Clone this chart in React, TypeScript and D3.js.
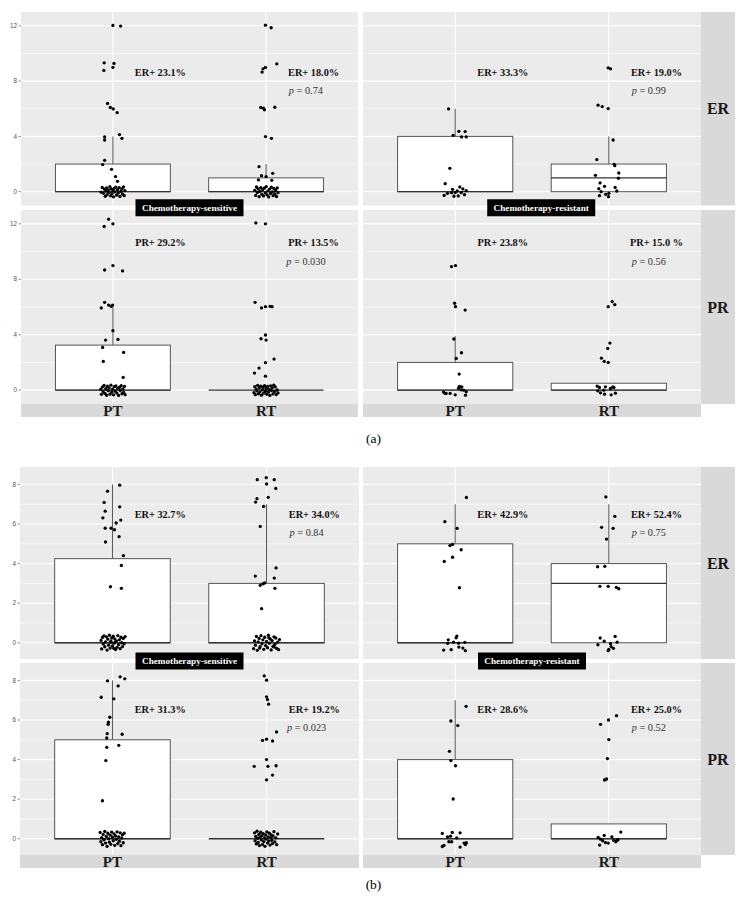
import React from 'react';
import * as d3 from 'd3';

const categories = ['PT', 'RT'];
const rowLabels = ['ER', 'PR'];
const groupLabels = ['Chemotherapy-sensitive', 'Chemotherapy-resistant'];

// box stats per category: [q1, median, q3, upper whisker]
const boxA_ER_S = [[0, 0, 2, 4], [0, 0, 1, 2]];
const boxA_ER_R = [[0, 0, 4, 6], [0, 1, 2, 4]];
const boxA_PR_S = [[0, 0, 3.25, 6], [0, 0, 0, 0]];
const boxA_PR_R = [[0, 0, 2, 3.9], [0, 0, 0.5, 0.5]];
const boxB_ER_S = [[0, 0, 4.25, 8], [0, 0, 3, 7]];
const boxB_ER_R = [[0, 0, 5, 7], [0, 3, 4, 7]];
const boxB_PR_S = [[0, 0, 5, 8], [0, 0, 0, 0]];
const boxB_PR_R = [[0, 0, 4, 7], [0, 0, 0.75, 0.75]];

// positive rates and p values
const pctA_ER_S = ['ER+ 23.1%', 'ER+ 18.0%'];
const pctA_ER_R = ['ER+ 33.3%', 'ER+ 19.0%'];
const pctA_PR_S = ['PR+ 29.2%', 'PR+ 13.5%'];
const pctA_PR_R = ['PR+ 23.8%', 'PR+ 15.0 %'];
const pctB_ER_S = ['ER+ 32.7%', 'ER+ 34.0%'];
const pctB_ER_R = ['ER+ 42.9%', 'ER+ 52.4%'];
const pctB_PR_S = ['ER+ 31.3%', 'ER+ 19.2%'];
const pctB_PR_R = ['ER+ 28.6%', 'ER+ 25.0%'];
const pValsA = ['0.74', '0.99', '0.030', '0.56'];
const pValsB = ['0.84', '0.75', '0.023', '0.52'];

// jittered points: [category index, jitter offset, value]
const ptsA_ER_S = [
  [0, 0, 12.03], [0, 0.05, 11.98], [0, -0.057, 9.32], [0, 0.007, 9.28], [0, -0.059, 8.77], [0, 0, 9.0],
  [0, -0.035, 6.38], [0, -0.017, 6.09], [0, 0.002, 5.99], [0, 0.028, 5.72], [0, -0.054, 3.96], [0, -0.054, 3.74],
  [0, 0.043, 4.13], [0, 0.059, 3.86], [0, -0.054, 2.27], [0, -0.067, 1.96], [0, -0.009, 1.62], [0, 0.017, 1.09],
  [0, 0.03, 0.75],
  [0, -0.07, 0.31], [0, -0.062, -0.12], [0, -0.055, 0.18], [0, -0.05, -0.33], [0, -0.046, 0.05], [0, -0.041, 0.27],
  [0, -0.037, -0.22], [0, -0.03, 0.12], [0, -0.026, -0.05], [0, -0.02, 0.36], [0, -0.015, -0.3], [0, -0.011, 0.2],
  [0, -0.006, -0.14], [0, 0.0, 0.09], [0, 0.004, -0.37], [0, 0.009, 0.24], [0, 0.013, -0.02], [0, 0.019, 0.33],
  [0, 0.024, -0.25], [0, 0.03, 0.14], [0, 0.035, -0.1], [0, 0.041, 0.29], [0, 0.046, -0.34], [0, 0.052, 0.02],
  [0, 0.058, 0.2], [0, 0.063, -0.18], [0, 0.069, 0.34], [0, 0.074, -0.28], [0, -0.078, -0.03], [0, 0.078, 0.08],
  [1, -0.004, 12.05], [1, 0.033, 11.86], [1, 0.07, 9.25], [1, -0.004, 8.99], [1, -0.02, 8.89], [1, -0.026, 8.65],
  [1, -0.035, 6.09], [1, -0.017, 6.04], [1, -0.011, 5.92], [1, 0.057, 6.11], [1, -0.004, 3.99], [1, 0.035, 3.86],
  [1, -0.046, 1.81], [1, -0.05, 0.85], [1, -0.03, 1.16], [1, 0, 1.09], [1, 0.043, 1.33], [1, 0.037, 0.82],
  [1, -0.074, 0.1], [1, -0.068, -0.27], [1, -0.063, 0.34], [1, -0.057, -0.06], [1, -0.052, 0.21], [1, -0.045, -0.36],
  [1, -0.04, 0.03], [1, -0.034, 0.3], [1, -0.028, -0.19], [1, -0.022, 0.15], [1, -0.017, -0.31], [1, -0.011, 0.26],
  [1, -0.005, -0.09], [1, 0.001, 0.37], [1, 0.006, -0.23], [1, 0.012, 0.06], [1, 0.017, -0.38], [1, 0.023, 0.19],
  [1, 0.029, -0.13], [1, 0.034, 0.32], [1, 0.04, -0.02], [1, 0.046, -0.29], [1, 0.051, 0.23], [1, 0.057, -0.16],
  [1, 0.062, 0.11], [1, 0.068, -0.35], [1, 0.073, 0.27], [1, 0.078, -0.07],
];
const ptsA_ER_R = [
  [0, -0.043, 5.99], [0, -0.013, 4.08], [0, 0.024, 4.37], [0, 0.065, 4.35], [0, 0.041, 3.96], [0, 0.072, 3.96],
  [0, -0.035, 1.69], [0, -0.065, 0.58], [0, -0.017, 0.17], [0, 0.03, 0.34], [0, -0.072, -0.27], [0, -0.024, -0.07],
  [0, 0, -0.07], [0, 0.02, -0.31], [0, 0.039, -0.07], [0, 0.061, -0.22], [0, 0.072, 0.07], [0, 0.013, 0.05],
  [0, -0.05, -0.12], [0, 0.05, 0.2], [0, -0.008, -0.33],
  [1, -0.004, 8.96], [1, 0.011, 8.89], [1, -0.07, 6.26], [1, -0.043, 6.16], [1, -0.004, 6.01], [1, 0.028, 3.74],
  [1, -0.078, 2.32], [1, 0.035, 1.98], [1, 0.039, 1.88], [1, -0.087, 1.18], [1, 0.065, 1.35], [1, 0.063, 0.97],
  [1, -0.057, 0.63], [1, -0.028, 0.39], [1, -0.065, 0.22], [1, 0.041, 0.31], [1, -0.05, 0.0], [1, 0, -0.12],
  [1, 0.052, 0.05], [1, -0.02, -0.19], [1, -0.061, -0.29], [1, -0.002, -0.36],
];
const ptsA_PR_S = [
  [0, -0.028, 12.34], [0, -0.057, 11.81], [0, 0, 12.0], [0, -0.054, 8.67], [0, 0, 8.99], [0, 0.063, 8.6],
  [0, -0.054, 6.34], [0, -0.076, 5.93], [0, -0.028, 6.14], [0, -0.011, 6.05], [0, -0.002, 6.14], [0, 0, 4.29],
  [0, -0.048, 3.61], [0, 0.033, 3.66], [0, -0.067, 3.08], [0, 0.07, 2.72], [0, -0.063, 2.07], [0, 0.067, 0.92],
  [0, -0.08, 0.05], [0, -0.075, -0.3], [0, -0.069, 0.22], [0, -0.064, -0.11], [0, -0.058, 0.34], [0, -0.052, -0.24],
  [0, -0.047, 0.1], [0, -0.041, -0.37], [0, -0.036, 0.28], [0, -0.03, -0.04], [0, -0.025, 0.17], [0, -0.019, -0.29],
  [0, -0.013, 0.36], [0, -0.008, -0.15], [0, -0.002, 0.07], [0, 0.004, -0.34], [0, 0.009, 0.25], [0, 0.015, -0.08],
  [0, 0.02, 0.31], [0, 0.026, -0.21], [0, 0.031, 0.13], [0, 0.037, -0.38], [0, 0.043, 0.2], [0, 0.048, -0.02],
  [0, 0.054, 0.33], [0, 0.059, -0.26], [0, 0.065, 0.09], [0, 0.07, -0.17], [0, 0.076, 0.27], [0, 0.08, -0.33],
  [1, -0.067, 12.07], [1, -0.004, 12.0], [1, -0.072, 6.34], [1, -0.03, 5.93], [1, -0.004, 6.02], [1, 0.026, 6.05],
  [1, 0.039, 6.02], [1, -0.004, 3.98], [1, -0.033, 3.71], [1, 0, 3.61], [1, 0.052, 2.24], [1, -0.004, 1.98],
  [1, -0.046, 1.59], [1, -0.076, 1.23], [1, -0.004, 1.01],
  [1, -0.079, -0.18], [1, -0.074, 0.25], [1, -0.07, -0.33], [1, -0.065, 0.08], [1, -0.06, -0.05], [1, -0.055, 0.35],
  [1, -0.05, -0.26], [1, -0.045, 0.16], [1, -0.04, -0.12], [1, -0.035, 0.29], [1, -0.03, -0.36], [1, -0.025, 0.02],
  [1, -0.02, 0.21], [1, -0.015, -0.22], [1, -0.01, 0.33], [1, -0.005, -0.08], [1, 0.0, 0.12], [1, 0.005, -0.3],
  [1, 0.01, 0.27], [1, 0.015, -0.15], [1, 0.02, 0.06], [1, 0.025, -0.38], [1, 0.03, 0.31], [1, 0.035, -0.03],
  [1, 0.04, 0.18], [1, 0.045, -0.27], [1, 0.05, 0.36], [1, 0.055, -0.1], [1, 0.06, 0.23], [1, 0.066, -0.32],
  [1, 0.072, 0.01], [1, 0.078, -0.2],
];
const ptsA_PR_R = [
  [0, -0.024, 8.92], [0, 0.002, 8.99], [0, -0.004, 6.27], [0, 0.002, 6.02], [0, 0.065, 5.78], [0, -0.009, 3.69],
  [0, 0.041, 2.7], [0, 0.007, 2.29], [0, 0.026, 1.16], [0, 0.028, 0.27], [0, 0.043, 0.24], [0, 0.055, 0.0],
  [0, -0.076, -0.14], [0, -0.059, -0.24], [0, -0.033, -0.24], [0, 0, -0.34], [0, 0.067, -0.36], [0, 0.072, -0.12],
  [0, 0.039, 0.02], [0, -0.065, -0.24], [0, 0.022, 0.14],
  [1, -0.004, 6.02], [1, 0.022, 6.39], [1, 0.039, 6.17], [1, 0.007, 3.4], [1, -0.007, 3.01], [1, -0.048, 2.31],
  [1, -0.03, 2.07], [1, -0.004, 2.0], [1, -0.076, 0.29], [1, -0.061, 0.19], [1, -0.022, 0.24], [1, 0.026, 0.24],
  [1, 0.011, 0.12], [1, 0.033, 0.19], [1, -0.072, -0.05], [1, -0.033, 0.0], [1, -0.054, -0.19], [1, -0.028, -0.29],
  [1, 0.015, -0.34], [1, 0.043, -0.22],
];
const ptsB_ER_S = [
  [0, 0.047, 7.96], [0, -0.032, 7.66], [0, -0.054, 7.09], [0, -0.047, 6.65], [0, 0.047, 6.87], [0, -0.062, 6.31],
  [0, 0.054, 6.2], [0, 0.024, 6.05], [0, -0.047, 5.79], [0, -0.009, 5.79], [0, 0.013, 5.71], [0, 0.043, 5.36],
  [0, -0.045, 5.09], [0, 0.071, 4.4], [0, 0.058, 3.91], [0, -0.013, 2.83], [0, 0.058, 2.75],
  [0, -0.074, 0.12], [0, -0.07, -0.31], [0, -0.065, 0.27], [0, -0.06, -0.06], [0, -0.055, 0.35], [0, -0.05, -0.2],
  [0, -0.045, 0.04], [0, -0.04, 0.3], [0, -0.035, -0.37], [0, -0.03, 0.18], [0, -0.025, -0.12], [0, -0.02, 0.38],
  [0, -0.015, -0.27], [0, -0.01, 0.08], [0, -0.005, 0.24], [0, 0.0, -0.16], [0, 0.005, 0.33], [0, 0.01, -0.02],
  [0, 0.015, 0.2], [0, 0.02, -0.34], [0, 0.025, 0.1], [0, 0.03, -0.23], [0, 0.035, 0.36], [0, 0.04, -0.09],
  [0, 0.045, 0.15], [0, 0.05, -0.3], [0, 0.055, 0.28], [0, 0.06, 0.0], [0, 0.065, -0.19], [0, 0.07, 0.22],
  [0, 0.076, -0.05], [0, 0.082, 0.31], [0, -0.012, 0.02], [0, 0.022, 0.06], [0, 0.008, -0.28],
  [1, -0.06, 8.24], [1, -0.002, 8.34], [1, 0.05, 8.24], [1, 0, 8.02], [1, 0.06, 7.8], [1, -0.062, 7.28],
  [1, 0.011, 7.35], [1, -0.071, 7.11], [1, -0.019, 6.89], [1, -0.041, 5.88], [1, 0.062, 3.78], [1, -0.073, 3.37],
  [1, 0.05, 3.27], [1, -0.041, 2.9], [1, -0.024, 2.98], [1, -0.013, 3.02], [1, 0.054, 2.75], [1, -0.032, 1.72],
  [1, -0.084, -0.3], [1, -0.078, 0.1], [1, -0.072, -0.12], [1, -0.066, 0.32], [1, -0.06, -0.38], [1, -0.054, 0.05],
  [1, -0.048, 0.22], [1, -0.042, -0.2], [1, -0.036, 0.36], [1, -0.03, -0.05], [1, -0.024, 0.15], [1, -0.018, -0.33],
  [1, -0.012, 0.28], [1, -0.006, -0.14], [1, 0.0, 0.07], [1, 0.006, -0.25], [1, 0.012, 0.38], [1, 0.018, -0.02],
  [1, 0.024, 0.19], [1, 0.03, -0.36], [1, 0.036, 0.11], [1, 0.042, -0.18], [1, 0.048, 0.3], [1, 0.054, -0.08],
  [1, 0.06, 0.24], [1, 0.066, -0.28], [1, 0.072, 0.03], [1, 0.078, -0.35], [1, 0.084, 0.16], [1, -0.045, -0.27],
  [1, 0.015, 0.25], [1, 0.05, -0.22],
];
const ptsB_ER_R = [
  [0, 0.073, 7.34], [0, -0.067, 6.12], [0, 0.013, 5.78], [0, -0.034, 4.91], [0, -0.017, 4.97], [0, 0.039, 4.7],
  [0, -0.017, 4.32], [0, -0.071, 4.11], [0, 0.028, 2.78], [0, 0.011, 0.34], [0, 0.006, 0.25], [0, -0.045, 0.15],
  [0, -0.011, 0.03], [0, -0.049, -0.03], [0, 0.022, -0.02], [0, 0.063, 0.02], [0, -0.075, -0.37], [0, -0.026, -0.35],
  [0, 0.024, -0.22], [0, 0.05, -0.27], [0, 0.066, -0.4],
  [1, -0.019, 7.37], [1, 0.039, 6.39], [1, -0.047, 5.83], [1, 0.028, 5.78], [1, -0.015, 5.24], [1, -0.073, 3.84],
  [1, -0.026, 3.86], [1, -0.058, 2.85], [1, -0.004, 2.85], [1, 0.049, 2.8], [1, 0.065, 2.73], [1, -0.056, 0.24],
  [1, 0.041, 0.32], [1, 0.054, 0.03], [1, -0.071, -0.1], [1, 0.011, -0.05], [1, 0.015, -0.19], [1, 0, -0.34],
  [1, -0.004, -0.4], [1, -0.03, 0.08], [1, 0.03, -0.28],
];
const ptsB_PR_S = [
  [0, -0.032, 7.98], [0, 0.05, 8.18], [0, 0.08, 8.08], [0, 0.037, 7.72], [0, -0.073, 7.15], [0, 0.009, 7.07],
  [0, -0.017, 6.14], [0, -0.026, 5.89], [0, -0.028, 5.78], [0, -0.034, 5.31], [0, 0.063, 5.28], [0, -0.037, 5.09],
  [0, -0.037, 4.62], [0, 0.041, 4.72], [0, -0.043, 3.95], [0, -0.065, 1.92],
  [0, -0.08, 0.32], [0, -0.075, -0.15], [0, -0.07, 0.06], [0, -0.065, -0.3], [0, -0.06, 0.22], [0, -0.055, -0.05],
  [0, -0.05, 0.37], [0, -0.045, -0.22], [0, -0.04, 0.12], [0, -0.035, -0.38], [0, -0.03, 0.28], [0, -0.025, 0.0],
  [0, -0.02, -0.17], [0, -0.015, 0.18], [0, -0.01, -0.28], [0, -0.005, 0.34], [0, 0.0, 0.08], [0, 0.005, -0.1],
  [0, 0.01, 0.25], [0, 0.015, -0.33], [0, 0.02, 0.14], [0, 0.025, -0.03], [0, 0.03, 0.35], [0, 0.035, -0.24],
  [0, 0.04, 0.1], [0, 0.045, -0.12], [0, 0.05, 0.3], [0, 0.055, -0.35], [0, 0.06, 0.04], [0, 0.065, 0.2],
  [0, 0.07, -0.2], [0, 0.076, 0.28],
  [1, -0.015, 8.23], [1, 0, 8.01], [1, 0, 7.17], [1, 0.006, 7.03], [1, 0.013, 6.8], [1, 0.065, 5.4],
  [1, -0.026, 4.97], [1, 0, 5.03], [1, 0.039, 4.94], [1, -0.08, 3.66], [1, 0.009, 3.66], [1, 0.062, 3.69],
  [1, 0, 4.0], [1, 0.039, 3.22], [1, 0, 2.98],
  [1, -0.078, 0.3], [1, -0.074, -0.1], [1, -0.07, 0.12], [1, -0.066, -0.26], [1, -0.062, 0.38], [1, -0.058, 0.02],
  [1, -0.054, -0.18], [1, -0.05, 0.22], [1, -0.046, -0.34], [1, -0.042, 0.08], [1, -0.038, 0.33], [1, -0.034, -0.06],
  [1, -0.03, 0.16], [1, -0.026, -0.29], [1, -0.022, 0.26], [1, -0.018, -0.14], [1, -0.014, 0.04], [1, -0.01, -0.38],
  [1, -0.006, 0.19], [1, -0.002, -0.02], [1, 0.002, 0.35], [1, 0.006, -0.22], [1, 0.01, 0.1], [1, 0.014, -0.12],
  [1, 0.018, 0.28], [1, 0.022, -0.32], [1, 0.026, 0.06], [1, 0.03, 0.2], [1, 0.034, -0.08], [1, 0.038, -0.25],
  [1, 0.042, 0.14], [1, 0.048, 0.36], [1, 0.054, -0.16], [1, 0.06, 0.05], [1, 0.066, -0.3], [1, 0.072, 0.24],
];
const ptsB_PR_R = [
  [0, 0.071, 6.69], [0, -0.028, 5.95], [0, 0.017, 5.72], [0, -0.037, 4.42], [0, -0.028, 3.95], [0, 0.002, 3.69],
  [0, -0.013, 2.01], [0, -0.084, 0.27], [0, -0.03, 0.13], [0, -0.019, 0.32], [0, 0.032, 0.3], [0, -0.041, -0.15],
  [0, -0.023, -0.15], [0, -0.084, -0.39], [0, 0.032, -0.42], [0, 0.058, -0.22], [0, 0.073, -0.2], [0, 0.067, -0.29],
  [0, -0.073, -0.34], [0, 0.01, 0.05], [0, -0.05, 0.1],
  [1, 0.05, 6.22], [1, -0.002, 6.0], [1, -0.054, 5.78], [1, 0, 5.01], [1, -0.009, 4.05], [1, -0.028, 2.97],
  [1, -0.015, 3.02], [1, 0.078, 0.34], [1, -0.03, 0.17], [1, -0.069, 0.07], [1, -0.054, -0.02], [1, -0.022, -0.19],
  [1, -0.004, -0.22], [1, 0.032, -0.08], [1, 0.054, -0.08], [1, 0.06, -0.05], [1, -0.06, -0.32], [1, 0.02, 0.1],
  [1, -0.04, -0.1], [1, 0.045, -0.15],
];

// annotation heights (value units) for percent label and p value, per row
const labelYA = [[8.6, 7.3], [10.65, 9.25]];
const labelYB = [[6.48, 5.56], [6.55, 5.62]];

const SERIF = '"Liberation Serif", "Times New Roman", serif';
const SANS = '"Liberation Sans", Arial, sans-serif';

const figures = [
  {
    caption: '(a)',
    cols: [[21, 358], [363, 701]],
    rows: [[12, 205.5], [210, 404]],
    strip: [404, 417],
    domain: [-1, 13],
    majors: [0, 4, 8, 12],
    minors: [2, 6, 10],
    boxes: [[boxA_ER_S, boxA_ER_R], [boxA_PR_S, boxA_PR_R]],
    pts: [[ptsA_ER_S, ptsA_ER_R], [ptsA_PR_S, ptsA_PR_R]],
    pct: [[pctA_ER_S, pctA_ER_R], [pctA_PR_S, pctA_PR_R]],
    pv: pValsA,
    labelY: labelYA,
    tagShift: [0, 0.06],
    captionY: 443,
  },
  {
    caption: '(b)',
    cols: [[20, 359], [363, 701]],
    rows: [[467, 659], [663, 855]],
    strip: [855, 868],
    domain: [-0.82, 8.88],
    majors: [0, 2, 4, 6, 8],
    minors: [1, 3, 5, 7],
    boxes: [[boxB_ER_S, boxB_ER_R], [boxB_PR_S, boxB_PR_R]],
    pts: [[ptsB_ER_S, ptsB_ER_R], [ptsB_PR_S, ptsB_PR_R]],
    pct: [[pctB_ER_S, pctB_ER_R], [pctB_PR_S, pctB_PR_R]],
    pv: pValsB,
    labelY: labelYB,
    tagShift: [0, 0],
    captionY: 889,
  },
];

function Panel({ fig, r, c }) {
  const [x0, x1] = fig.cols[c];
  const [y0, y1] = fig.rows[r];
  const x = d3.scaleLinear().domain([0.4, 2.6]).range([x0, x1]);
  const y = d3.scaleLinear().domain(fig.domain).range([y1, y0]);
  const boxes = fig.boxes[r][c];
  const pts = fig.pts[r][c];
  const pct = fig.pct[r][c];
  const [pctY, pY] = fig.labelY[r];
  return (
    <g>
      <rect x={x0} y={y0} width={x1 - x0} height={y1 - y0} fill="#ebebeb" />
      {fig.minors.map((v) => (
        <line key={'mi' + v} x1={x0} x2={x1} y1={y(v)} y2={y(v)} stroke="#fff" strokeWidth={0.55} />
      ))}
      {fig.majors.map((v) => (
        <line key={'ma' + v} x1={x0} x2={x1} y1={y(v)} y2={y(v)} stroke="#fff" strokeWidth={1.1} />
      ))}
      {categories.map((k, i) => (
        <line key={'v' + k} x1={x(i + 1)} x2={x(i + 1)} y1={y0} y2={y1} stroke="#fff" strokeWidth={1.1} />
      ))}
      {boxes.map(([q1, med, q3, up], i) => {
        const cx = x(i + 1);
        const bx0 = x(i + 1 - 0.375);
        const bx1 = x(i + 1 + 0.375);
        return (
          <g key={'b' + i} stroke="#555" strokeWidth={1}>
            {up > q3 && <line x1={cx} x2={cx} y1={y(q3)} y2={y(up)} />}
            {q3 > q1 && <rect x={bx0} y={y(q3)} width={bx1 - bx0} height={y(q1) - y(q3)} fill="#fff" />}
            <line x1={bx0} x2={bx1} y1={y(med)} y2={y(med)} strokeWidth={1.3} stroke="#333" />
          </g>
        );
      })}
      {pts.map(([k, dx, v], i) => (
        <circle key={'p' + i} cx={x(k + 1 + dx)} cy={y(v)} r={1.65} fill="#000" />
      ))}
      {pct.map((t, i) => (
        <text key={'t' + i} x={x(i + 1.31)} y={y(pctY) + 3.5} textAnchor="middle"
          fontFamily={SERIF} fontWeight="bold" fontSize={10.3} fill="#111">{t}</text>
      ))}
      <text x={x(2.26)} y={y(pY) + 3.5} textAnchor="middle" fontFamily={SERIF} fontSize={10.3} fill="#333">
        <tspan fontStyle="italic">p</tspan>{' = ' + fig.pv[r * 2 + c]}
      </text>
      {c === 0 && fig.majors.map((v) => (
        <g key={'tk' + v}>
          <line x1={x0 - 2.5} x2={x0} y1={y(v)} y2={y(v)} stroke="#444" strokeWidth={0.6} />
          <text x={x0 - 4} y={y(v) + 2.2} textAnchor="end" fontFamily={SANS} fontSize={6.3} fill="#555">{v}</text>
        </g>
      ))}
    </g>
  );
}

function Figure({ fig }) {
  const stripX0 = fig.cols[1][1];
  return (
    <g>
      {rowLabels.map((lab, r) =>
        groupLabels.map((g, c) => <Panel key={lab + g} fig={fig} r={r} c={c} />)
      )}
      {rowLabels.map((lab, r) => {
        const [y0, y1] = fig.rows[r];
        return (
          <g key={'rs' + lab}>
            <rect x={stripX0} y={y0} width={34} height={y1 - y0} fill="#d9d9d9" />
            <text x={stripX0 + 17} y={(y0 + y1) / 2 + 5.5} textAnchor="middle" fontFamily={SERIF}
              fontWeight="bold" fontSize={16} fill="#1a1a1a">{lab}</text>
          </g>
        );
      })}
      {groupLabels.map((g, c) => {
        const [x0, x1] = fig.cols[c];
        const x = d3.scaleLinear().domain([0.4, 2.6]).range([x0, x1]);
        return (
          <g key={'bs' + g}>
            <rect x={x0} y={fig.strip[0]} width={x1 - x0} height={fig.strip[1] - fig.strip[0]} fill="#d9d9d9" />
            {categories.map((k, i) => (
              <text key={k} x={x(i + 1)} y={fig.strip[1] - 1.5} textAnchor="middle" fontFamily={SERIF}
                fontWeight="bold" fontSize={15} fill="#1a1a1a">{k}</text>
            ))}
          </g>
        );
      })}
      {groupLabels.map((g, c) => {
        const [x0, x1] = fig.cols[c];
        const x = d3.scaleLinear().domain([0.4, 2.6]).range([x0, x1]);
        const cx = x(1.5 + fig.tagShift[c]);
        const cy = (fig.rows[0][1] + fig.rows[1][0]) / 2;
        return (
          <g key={'tag' + g}>
            <rect x={cx - 54} y={cy - 8.5} width={108} height={17} fill="#000" />
            <text x={cx} y={cy + 3.2} textAnchor="middle" fontFamily={SERIF} fontWeight="bold"
              fontSize={9.2} fill="#fff">{g}</text>
          </g>
        );
      })}
      <text x={373.5} y={fig.captionY} textAnchor="middle" fontFamily={SERIF} fontSize={13.5} fill="#000">
        {fig.caption}
      </text>
    </g>
  );
}

export default function App() {
  return (
    <svg width={747} height={899} style={{ position: 'absolute', left: 0, top: 0, background: '#fff' }}>
      {figures.map((f) => (
        <Figure key={f.caption} fig={f} />
      ))}
    </svg>
  );
}
